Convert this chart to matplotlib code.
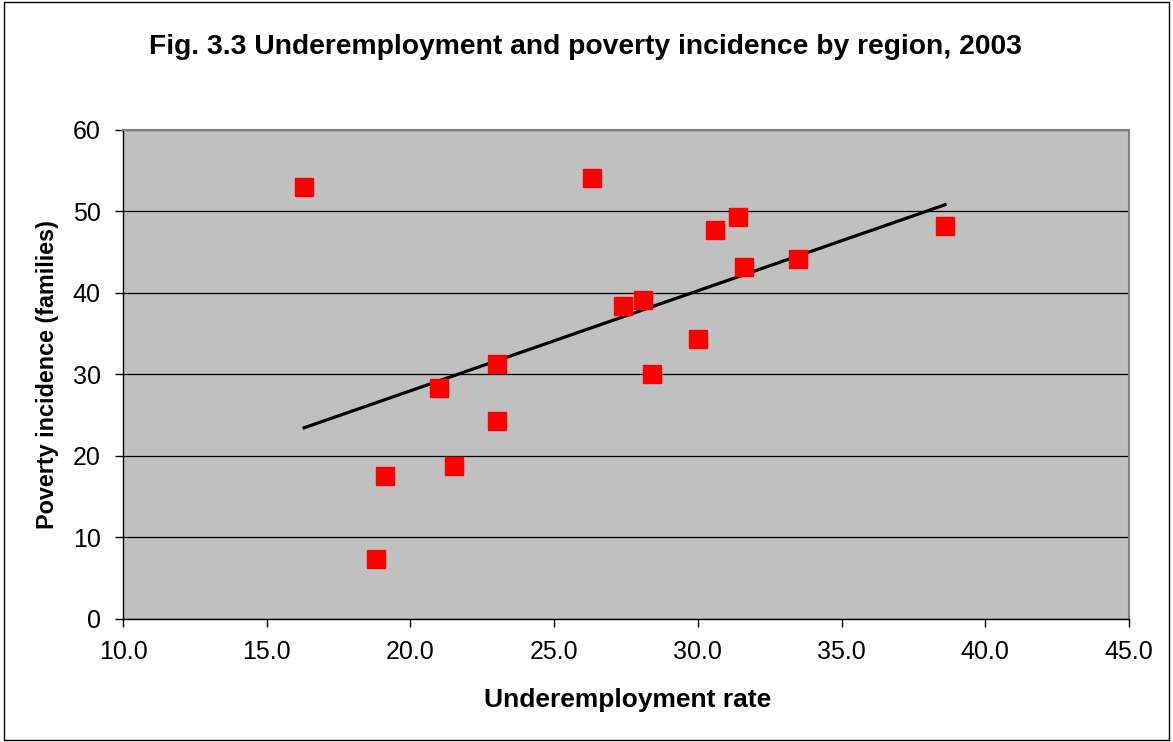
import numpy as np
import matplotlib
matplotlib.use('Agg')
import matplotlib.pyplot as plt
from matplotlib.patches import Rectangle

# underemployment rate (%) and poverty incidence (% of families), by region
underemployment = [16.3, 26.3, 27.4, 28.1, 28.4, 23.0, 21.0, 23.0, 21.5,
                   19.1, 18.8, 30.0, 30.6, 31.4, 31.6, 33.5, 38.6]
poverty = [53.0, 54.1, 38.4, 39.1, 30.1, 31.3, 28.3, 24.3, 18.8,
           17.6, 7.3, 34.4, 47.7, 49.3, 43.2, 44.2, 48.2]
x_ticks = [10.0, 15.0, 20.0, 25.0, 30.0, 35.0, 40.0, 45.0]
y_ticks = [0, 10, 20, 30, 40, 50, 60]

plt.rcParams['font.family'] = ['Liberation Sans', 'DejaVu Sans']

fig = plt.figure(figsize=(11.73, 7.42), dpi=100)
ax = fig.add_axes([0.1049, 0.1658, 0.9625 - 0.1049, 0.8248 - 0.1658])

# outer frame of the chart
fig.patches.append(Rectangle((0.003, 0.003), 0.994, 0.994, transform=fig.transFigure,
                             fill=False, edgecolor='black', linewidth=1))

ax.set_facecolor('#C0C0C0')
ax.set_xlim(10, 45)
ax.set_ylim(0, 60)
ax.set_xticks(x_ticks)
ax.set_xticklabels([f'{v:.1f}' for v in x_ticks])
ax.set_yticks(y_ticks)
ax.yaxis.grid(True, color='black', linewidth=0.9)
ax.set_axisbelow(True)

for side in ['top', 'right']:
    ax.spines[side].set_color('#808080')
    ax.spines[side].set_linewidth(1.5)
for side in ['left', 'bottom']:
    ax.spines[side].set_color('black')
    ax.spines[side].set_linewidth(1)

ax.tick_params(direction='out', length=6, width=1, labelsize=18)
ax.tick_params(axis='y', pad=10)
ax.tick_params(axis='x', pad=9)

# linear trend line over the data range
xs = np.array(underemployment)
slope, intercept = np.polyfit(xs, np.array(poverty), 1)
xl = np.array([xs.min(), xs.max()])
ax.plot(xl, slope * xl + intercept, color='black', linewidth=2.3, zorder=2)

ax.plot(underemployment, poverty, linestyle='none', marker='s', markersize=13,
        markerfacecolor='red', markeredgecolor='red', zorder=3)

ax.set_xlabel('Underemployment rate', fontsize=19, fontweight='bold', va='center')
ax.xaxis.set_label_coords(0.502, -0.1656)
ax.set_ylabel('Poverty incidence (families)', fontsize=16.8, fontweight='bold', va='center')
ax.yaxis.set_label_coords(-0.0755, 0.5)
fig.text(0.499, 0.937, 'Fig. 3.3 Underemployment and poverty incidence by region, 2003',
         ha='center', va='center', fontsize=20.3, fontweight='bold')

plt.savefig('out.png', dpi=100)
